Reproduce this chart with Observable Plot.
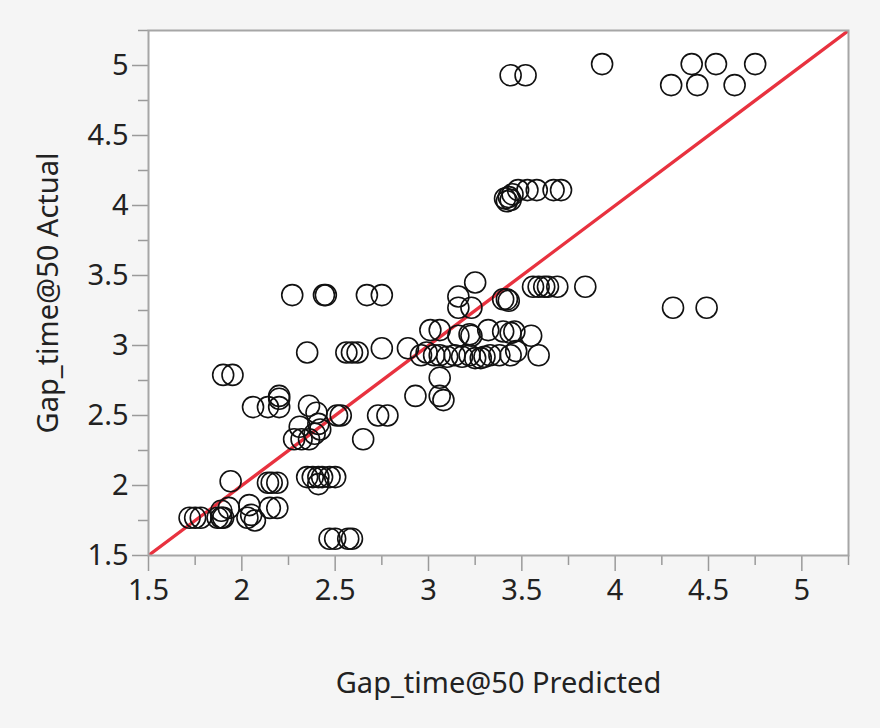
<!DOCTYPE html>
<html>
<head>
<meta charset="utf-8">
<script src="https://cdn.jsdelivr.net/npm/d3@7"></script>
<script src="https://cdn.jsdelivr.net/npm/@observablehq/plot@0.6"></script>
<style>
  html, body { margin: 0; padding: 0; background: #f5f5f5; }
  #chart svg { display: block; }
</style>
</head>
<body>
<div id="chart"></div>
<script>
// Predicted values (x) and actual values (y)
const predicted = [
  3.44, 3.52, 3.93, 4.30, 4.44, 4.41, 4.54, 4.64, 4.75,
  3.41, 3.42, 3.43, 3.44, 3.45, 3.48, 3.53, 3.58, 3.67, 3.71,
  3.56, 3.59, 3.62, 3.64, 3.69, 3.84,
  4.31, 4.49,
  3.40, 3.42, 3.43, 3.25, 3.16, 3.16, 3.23,
  2.27, 2.44, 2.45, 2.67, 2.75,
  3.01, 3.06, 3.16, 3.22, 3.23, 3.32, 3.40, 3.44, 3.46, 3.55,
  2.35, 2.56, 2.59, 2.62, 2.75, 2.89,
  2.96, 2.99, 3.03, 3.06, 3.10, 3.14, 3.18, 3.22, 3.25, 3.28, 3.30, 3.33, 3.38, 3.44, 3.47, 3.59,
  3.06, 2.93, 3.06, 3.08,
  1.90, 1.95, 2.20, 2.20,
  2.06, 2.14, 2.20, 2.36, 2.40, 2.53, 2.51, 2.73, 2.78, 2.65,
  2.31, 2.28, 2.32, 2.36, 2.39, 2.42, 2.41,
  1.94, 2.14, 2.16, 2.19,
  2.35, 2.38, 2.41, 2.43, 2.47, 2.50, 2.41,
  1.72, 1.75, 1.78, 1.87, 1.89, 1.90, 1.93, 1.89,
  2.04, 2.05, 2.07, 2.03, 2.15, 2.19,
  2.47, 2.50, 2.57, 2.59
];
const actual = [
  4.93, 4.93, 5.01, 4.86, 4.86, 5.01, 5.01, 4.86, 5.01,
  4.05, 4.03, 4.06, 4.04, 4.08, 4.11, 4.11, 4.11, 4.11, 4.11,
  3.42, 3.42, 3.42, 3.42, 3.42, 3.42,
  3.27, 3.27,
  3.33, 3.33, 3.32, 3.45, 3.35, 3.27, 3.27,
  3.36, 3.36, 3.36, 3.36, 3.36,
  3.11, 3.11, 3.07, 3.08, 3.07, 3.11, 3.10, 3.09, 3.10, 3.07,
  2.95, 2.95, 2.95, 2.95, 2.98, 2.98,
  2.93, 2.95, 2.93, 2.93, 2.92, 2.93, 2.92, 2.93, 2.91, 2.91, 2.92, 2.93, 2.93, 2.93, 2.96, 2.93,
  2.77, 2.64, 2.64, 2.61,
  2.79, 2.79, 2.64, 2.62,
  2.56, 2.56, 2.56, 2.57, 2.52, 2.50, 2.50, 2.50, 2.50, 2.33,
  2.42, 2.33, 2.33, 2.33, 2.37, 2.40, 2.44,
  2.03, 2.02, 2.02, 2.02,
  2.06, 2.06, 2.06, 2.06, 2.06, 2.06, 2.01,
  1.77, 1.77, 1.77, 1.77, 1.77, 1.77, 1.84, 1.82,
  1.86, 1.79, 1.75, 1.77, 1.84, 1.84,
  1.62, 1.62, 1.62, 1.62
];
// Axis range and the identity (Predicted = Actual) reference line
const axisRange = [1.5, 5.25];
const majorTicks = [1.5, 2, 2.5, 3, 3.5, 4, 4.5, 5];
const minorTicks = [1.75, 2.25, 2.75, 3.25, 3.75, 4.25, 4.75, 5.25];
const xTitle = "Gap_time@50 Predicted";
const yTitle = "Gap_time@50 Actual";

const points = predicted.map((p, i) => ({predicted: p, actual: actual[i]}));
const diag = axisRange.map(v => ({v}));

const font = "'Noto Sans', 'Open Sans', sans-serif";

const chart = Plot.plot({
  width: 880,
  height: 728,
  marginLeft: 148,
  marginRight: 32,
  marginTop: 30,
  marginBottom: 173,
  style: {background: "#f5f5f5", fontFamily: font, fontSize: "29px", color: "#222"},
  x: {domain: axisRange},
  y: {domain: axisRange},
  marks: [
    Plot.frame({fill: "white", stroke: "none"}),
    Plot.axisX(minorTicks, {tickSize: 10, text: null, stroke: "#9a9a9a", strokeWidth: 1.5, label: null, strokeOpacity: 1}),
    Plot.axisX(majorTicks, {tickSize: 16, tickPadding: 8, stroke: "#9a9a9a", strokeWidth: 1.5, strokeOpacity: 1, fill: "#222", label: null, fontSize: 29, tickFormat: d => String(d)}),
    Plot.axisY(minorTicks, {tickSize: 10, text: null, stroke: "#9a9a9a", strokeWidth: 1.5, label: null, strokeOpacity: 1}),
    Plot.axisY(majorTicks, {tickSize: 16, tickPadding: 4, stroke: "#9a9a9a", strokeWidth: 1.5, strokeOpacity: 1, fill: "#222", label: null, fontSize: 29, tickFormat: d => String(d)}),
    Plot.line(diag, {x: "v", y: "v", stroke: "#e8323f", strokeWidth: 3.2, clip: true}),
    Plot.dot(points, {x: "predicted", y: "actual", r: 10.5, stroke: "#111", strokeWidth: 1.6, fill: "none"}),
    Plot.frame({stroke: "#a6a6a6", strokeWidth: 2}),
    Plot.text([xTitle], {frameAnchor: "bottom", dy: 128, text: d => d, fontSize: 29, fill: "#222", lineAnchor: "middle", textAnchor: "middle"}),
    Plot.text([yTitle], {frameAnchor: "left", dx: -100, text: d => d, fontSize: 29, fill: "#222", rotate: -90, lineAnchor: "middle", textAnchor: "middle"})
  ]
});
document.getElementById("chart").appendChild(chart);
</script>
</body>
</html>
